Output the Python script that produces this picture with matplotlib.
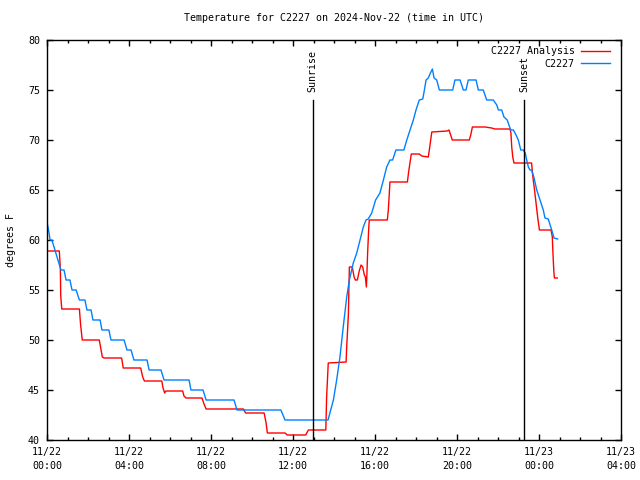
import matplotlib
matplotlib.use("Agg")
import matplotlib.pyplot as plt
from matplotlib.ticker import MultipleLocator

# ---- data (hours since 2024-11-22 00:00 UTC, degrees F) ----
obs_hours = [0.00, 0.10, 0.15, 0.24, 0.68, 0.83, 0.93, 1.12, 1.22, 1.42, 1.58, 1.85, 1.95, 2.15,
             2.24, 2.59, 2.68, 3.02, 3.12, 3.76, 3.90, 4.10, 4.24, 4.88, 4.98, 5.56, 5.71, 6.93,
             7.02, 7.61, 7.76, 9.12, 9.27, 11.41, 11.61, 13.71, 13.80, 13.97, 14.13, 14.29, 14.45,
             14.62, 14.75, 14.94, 15.11, 15.27, 15.43, 15.56, 15.67, 15.84, 16.03, 16.24, 16.41,
             16.57, 16.73, 16.86, 17.02, 17.41, 17.55, 17.71, 17.87, 18.00, 18.16, 18.33, 18.41,
             18.49, 18.60, 18.68, 18.80, 18.88, 19.01, 19.14, 19.79, 19.90, 20.15, 20.31, 20.44,
             20.55, 20.93, 21.04, 21.28, 21.45, 21.77, 21.94, 22.02, 22.18, 22.29, 22.45, 22.55,
             22.62, 22.75, 22.88, 22.99, 23.11, 23.23, 23.33, 23.40, 23.48, 23.56, 23.64, 23.76,
             23.89, 24.05, 24.21, 24.29, 24.45, 24.62, 24.73, 24.91]
obs_temp = [61.8, 60.7, 60.0, 60.0, 57.0, 57.0, 56.0, 56.0, 55.0, 55.0, 54.0, 54.0, 53.0, 53.0,
            52.0, 52.0, 51.0, 51.0, 50.0, 50.0, 49.0, 49.0, 48.0, 48.0, 47.0, 47.0, 46.0, 46.0,
            45.0, 45.0, 44.0, 44.0, 43.0, 43.0, 42.0, 42.0, 42.7, 44.0, 46.0, 48.3, 51.3,
            54.3, 56.0, 57.7, 58.7, 60.0, 61.3, 62.0, 62.1, 62.7, 64.0, 64.7, 66.0,
            67.3, 68.0, 68.0, 69.0, 69.0, 70.0, 71.0, 72.0, 73.0, 74.0, 74.1, 75.0,
            76.0, 76.2, 76.6, 77.1, 76.2, 76.0, 75.0, 75.0, 76.0, 76.0, 75.0, 75.0,
            76.0, 76.0, 75.0, 75.0, 74.0, 74.0, 73.5, 73.0, 73.0, 72.3, 72.0, 71.4,
            71.0, 71.0, 70.5, 70.0, 69.0, 69.0, 68.7, 68.0, 67.3, 67.0, 67.0, 66.2,
            65.0, 64.0, 63.0, 62.2, 62.1, 61.0, 60.2, 60.1]

ana_hours = [0.00, 0.60, 0.65, 0.67, 0.72, 1.58, 1.64, 1.72, 2.55, 2.62, 2.70, 2.78, 3.64, 3.72,
             4.57, 4.67, 4.75, 5.60, 5.66, 5.74, 5.80, 6.62, 6.68, 6.78, 7.56, 7.66, 7.76, 9.58,
             9.69, 10.59, 10.68, 10.75, 11.61, 11.72, 12.62, 12.75, 13.60, 13.64, 13.72, 14.59,
             14.62, 14.70, 14.72, 14.75, 14.89, 14.98, 15.04, 15.14, 15.23, 15.32, 15.40, 15.48,
             15.53, 15.58, 15.60, 15.64, 15.69, 15.72, 16.60, 16.65, 16.73, 17.58, 17.64, 17.77,
             18.16, 18.28, 18.60, 18.65, 18.77, 19.53, 19.61, 19.69, 19.77, 20.60, 20.67, 20.75,
             21.37, 21.69, 21.85, 22.59, 22.63, 22.67, 22.72, 22.78, 23.64, 23.69, 23.77, 23.85,
             23.94, 24.02, 24.59, 24.65, 24.68, 24.72, 24.75, 24.89]
ana_temp = [58.9, 58.9, 57.2, 54.4, 53.1, 53.1, 51.5, 50.0, 50.0, 49.2, 48.3, 48.2, 48.2, 47.2,
            47.2, 46.3, 45.9, 45.9, 45.2, 44.7, 44.9, 44.9, 44.4, 44.2, 44.2, 43.6, 43.1, 43.1,
            42.7, 42.7, 41.8, 40.7, 40.7, 40.5, 40.5, 41.0, 41.0, 44.3, 47.7, 47.8,
            49.3, 52.5, 54.5, 57.3, 57.3, 56.3, 56.0, 56.0, 56.9, 57.5, 57.3, 56.5,
            56.3, 55.3, 56.3, 58.7, 61.0, 62.0, 62.0, 63.0, 65.8, 65.8, 66.8, 68.6,
            68.6, 68.4, 68.3, 69.0, 70.8, 70.9, 71.0, 70.5, 70.0, 70.0, 70.5, 71.3,
            71.3, 71.2, 71.1, 71.1, 70.7, 69.3, 68.3, 67.7, 67.7, 66.5, 65.2, 63.8,
            62.2, 61.0, 61.0, 60.3, 58.7, 57.0, 56.2, 56.2]

sun_events = ["Sunrise", "Sunset"]
sun_hours = [12.96, 23.28]
sun_line_top = 74.0

xtick_hours = [0, 4, 8, 12, 16, 20, 24, 28]
xtick_labels = ["11/22\n00:00", "11/22\n04:00", "11/22\n08:00", "11/22\n12:00",
                "11/22\n16:00", "11/22\n20:00", "11/23\n00:00", "11/23\n04:00"]
ytick_vals = [40, 45, 50, 55, 60, 65, 70, 75, 80]

title = "Temperature for C2227 on 2024-Nov-22 (time in UTC)"
ylabel = "degrees F"
series_names = ["C2227 Analysis", "C2227"]

# ---- plot ----
FONT = "DejaVu Sans Mono"
FS = 7.2
plt.rcParams["font.family"] = FONT
plt.rcParams["font.size"] = FS

fig = plt.figure(figsize=(6.4, 4.8), dpi=100)
ax = fig.add_axes([47/640, 1-440/480, (621-47)/640, 400/480])

ax.plot(ana_hours, ana_temp, color="#ff0000", lw=1.0, label=series_names[0])
ax.plot(obs_hours, obs_temp, color="#0080ff", lw=1.0, label=series_names[1])

for name, h in zip(sun_events, sun_hours):
    ax.plot([h, h], [40, sun_line_top], color="black", lw=1.0)
    ax.text(h, sun_line_top + 0.8, name, rotation=90, ha="center", va="bottom", fontsize=FS)

ax.set_xlim(0, 28)
ax.set_ylim(40, 80)
ax.set_xticks(xtick_hours)
ax.set_xticklabels(xtick_labels, linespacing=1.55)
ax.xaxis.set_minor_locator(MultipleLocator(1))
ax.set_yticks(ytick_vals)
ax.set_yticklabels([str(v) for v in ytick_vals])
ax.tick_params(axis="both", which="major", direction="in", length=4, width=1,
               top=True, right=True, labelsize=FS, pad=5)
ax.tick_params(axis="x", which="minor", direction="in", length=2.2, width=1, top=True)
for s in ax.spines.values():
    s.set_linewidth(1.0)

ax.set_title(title, fontsize=FS, pad=14)
ax.set_ylabel(ylabel, fontsize=FS, labelpad=9)

leg = ax.legend(loc="upper right", bbox_to_anchor=(0.988, 0.995), frameon=False,
                markerfirst=False, alignment="right",
                handlelength=2.9, handletextpad=0.6, labelspacing=0.25,
                borderaxespad=0.25, borderpad=0.2, fontsize=FS)

fig.savefig("out.png", dpi=100)
